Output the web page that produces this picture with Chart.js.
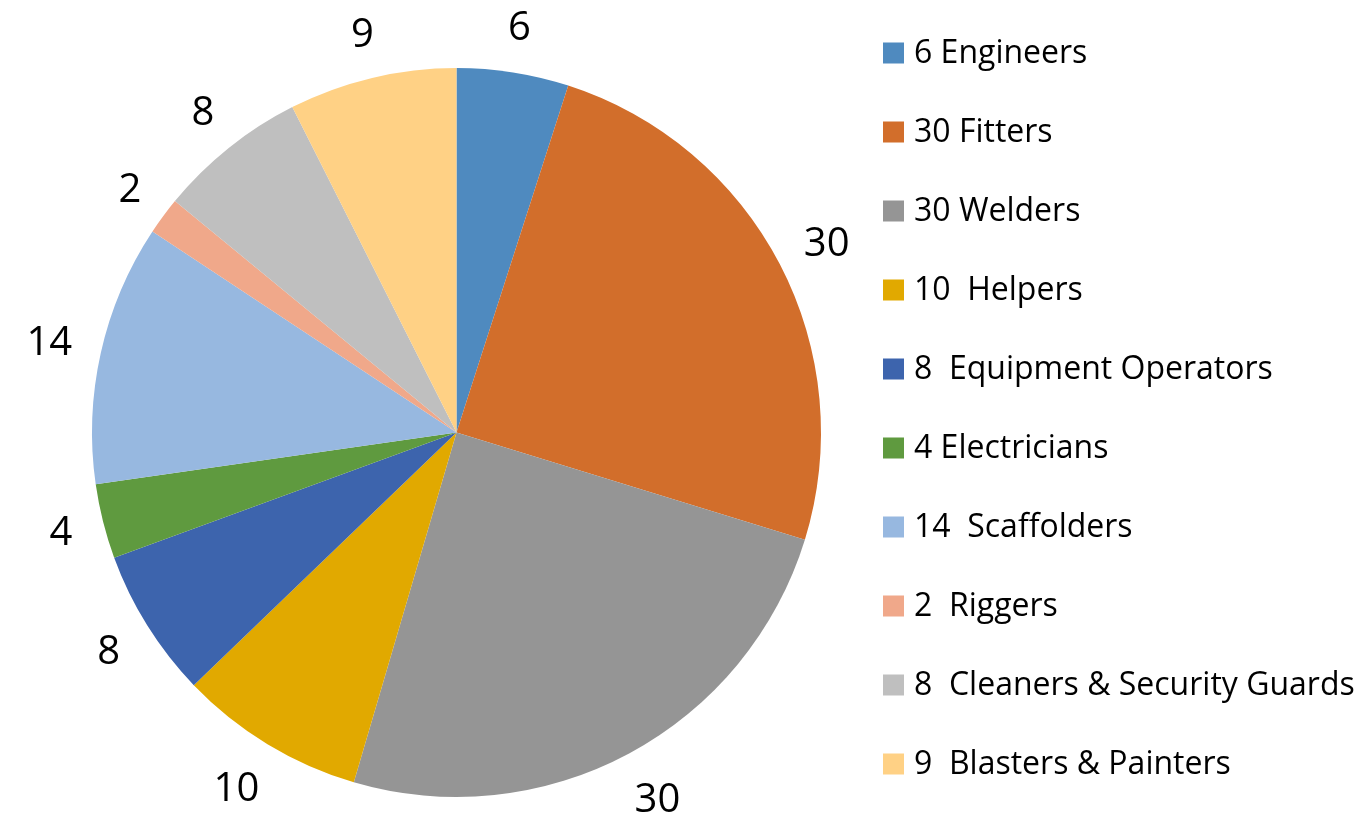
<!DOCTYPE html>
<html>
<head>
<meta charset="utf-8">
<script src="https://cdn.jsdelivr.net/npm/chart.js@4"></script>
<style>
html,body{margin:0;padding:0;background:#fff;}
#wrap{width:1366px;height:818px;position:relative;}
</style>
</head>
<body>
<div id="wrap"><canvas id="c" width="1366" height="818"></canvas></div>
<script>
const categories = ["6 Engineers","30 Fitters","30 Welders","10  Helpers","8  Equipment Operators","4 Electricians","14  Scaffolders","2  Riggers","8  Cleaners & Security Guards","9  Blasters & Painters"];
const values = [6,30,30,10,8,4,14,2,8,9];
const colors = ["#4F8ABF","#D26E2B","#959595","#E1A900","#3D64AD","#5F9A3F","#97B8E0","#F0A88A","#BFBFBF","#FFD185"];

const FONT = "'Open Sans','Noto Sans',sans-serif";

const outsideLabels = {
  id:'outsideLabels',
  afterDatasetsDraw(chart){
    const ctx = chart.ctx;
    const meta = chart.getDatasetMeta(0);
    ctx.save();
    ctx.font = "40px " + FONT;
    ctx.fillStyle = "#000";
    ctx.textAlign = "center";
    ctx.textBaseline = "middle";
    meta.data.forEach((arc,i)=>{
      const mid = (arc.startAngle + arc.endAngle)/2;
      const dx = Math.cos(mid), dy = Math.sin(mid);
      const txt = String(values[i]);
      const w = ctx.measureText(txt).width, h = 30;
      const r = arc.outerRadius + 30 + Math.max(0, dy)*8;
      const x = arc.x + dx*r + dx*w/2;
      const y = arc.y + dy*r + dy*h/2;
      ctx.fillText(txt, x, y+1);
    });
    ctx.restore();
  }
};

const customLegend = {
  id:'customLegend',
  afterDraw(chart){
    const ctx = chart.ctx;
    ctx.save();
    ctx.font = "32px " + FONT;
    ctx.textAlign = "left";
    ctx.textBaseline = "middle";
    categories.forEach((c,i)=>{
      const cy = 53 + 79*i;
      ctx.fillStyle = colors[i];
      ctx.fillRect(883, cy-10.5, 21, 21);
      ctx.fillStyle = "#000";
      ctx.fillText(c, 914, cy+1);
    });
    ctx.restore();
  }
};

new Chart(document.getElementById('c'), {
  type:'pie',
  data:{
    labels:categories,
    datasets:[{data:values, backgroundColor:colors, borderWidth:0}]
  },
  options:{
    responsive:false,
    animation:false,
    layout:{padding:{left:92,top:68,right:545,bottom:21}},
    plugins:{legend:{display:false},tooltip:{enabled:false}}
  },
  plugins:[outsideLabels, customLegend]
});
</script>
</body>
</html>
